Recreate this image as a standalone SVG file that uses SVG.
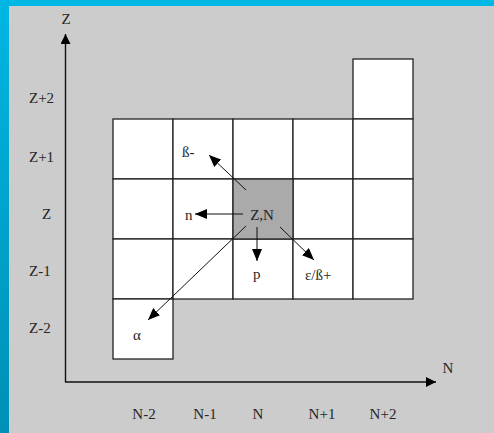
<svg xmlns="http://www.w3.org/2000/svg" width="494" height="433" viewBox="0 0 494 433">
<defs>
<linearGradient id="lb" x1="0" y1="0" x2="0" y2="1">
<stop offset="0" stop-color="#00b6e2"/>
<stop offset="1" stop-color="#0090b6"/>
</linearGradient>
<marker id="ah" viewBox="0 0 12 10" refX="12" refY="5" markerWidth="12" markerHeight="10" markerUnits="userSpaceOnUse" orient="auto">
<path d="M0,0 L12,5 L0,10 z" fill="#000"/>
</marker>
<marker id="ax" viewBox="0 0 10 10" refX="10" refY="5" markerWidth="11" markerHeight="10" markerUnits="userSpaceOnUse" orient="auto">
<path d="M0,0 L10,5 L0,10 z" fill="#000"/>
</marker>
</defs>
<style>
text{font-family:"Liberation Serif","Times New Roman",serif;font-size:15px;fill:#262626}
.c{fill:#fff;stroke:#222;stroke-width:1.3}
.s{fill:#aaaaaa;stroke:#222;stroke-width:1.3}
.a{stroke:#111;stroke-width:1;fill:none}
.ax{stroke:#111;stroke-width:1.4;fill:none}
</style>
<rect x="0" y="0" width="494" height="433" fill="#cccccc"/>
<rect x="0" y="0" width="494" height="6" fill="#00b8e4"/>
<rect x="0" y="0" width="9" height="433" fill="url(#lb)"/>

<g id="axes">
<path class="ax" d="M65.5,382 V34" marker-end="url(#ax)"/>
<path class="ax" d="M65,382 H436" marker-end="url(#ax)"/>
<text x="66" y="24" text-anchor="middle">Z</text>
<text x="448" y="373" text-anchor="middle">N</text>
</g>

<g id="zlabels">
<text x="29" y="103">Z+2</text>
<text x="29" y="162">Z+1</text>
<text x="42" y="219">Z</text>
<text x="29" y="276">Z-1</text>
<text x="29" y="333">Z-2</text>
</g>
<g id="nlabels">
<text x="144" y="419" text-anchor="middle">N-2</text>
<text x="205" y="419" text-anchor="middle">N-1</text>
<text x="258" y="419" text-anchor="middle">N</text>
<text x="322" y="419" text-anchor="middle">N+1</text>
<text x="383" y="419" text-anchor="middle">N+2</text>
</g>

<g id="grid">
<rect class="c" x="353" y="59" width="60" height="60"/>
<rect class="c" x="113" y="119" width="60" height="60"/>
<rect class="c" x="173" y="119" width="60" height="60"/>
<rect class="c" x="233" y="119" width="60" height="60"/>
<rect class="c" x="293" y="119" width="60" height="60"/>
<rect class="c" x="353" y="119" width="60" height="60"/>
<rect class="c" x="113" y="179" width="60" height="60"/>
<rect class="c" x="173" y="179" width="60" height="60"/>
<rect class="c" x="293" y="179" width="60" height="60"/>
<rect class="c" x="353" y="179" width="60" height="60"/>
<rect class="c" x="113" y="239" width="60" height="60"/>
<rect class="c" x="173" y="239" width="60" height="60"/>
<rect class="c" x="233" y="239" width="60" height="60"/>
<rect class="c" x="293" y="239" width="60" height="60"/>
<rect class="c" x="353" y="239" width="60" height="60"/>
<rect class="c" x="113" y="299" width="60" height="60"/>
</g>
<g id="center">
<rect class="s" x="233" y="179" width="60" height="60"/>
<text x="262" y="220" text-anchor="middle">Z,N</text>
</g>

<g id="connectors">
<path class="a" d="M246,190 L209,155" marker-end="url(#ah)"/>
<path class="a" d="M243,214 L195,214" marker-end="url(#ah)"/>
<path class="a" d="M257,227 L257,261" marker-end="url(#ah)"/>
<path class="a" d="M280,227 L314,260" marker-end="url(#ah)"/>
<path class="a" d="M246,226 L148,320" marker-end="url(#ah)"/>
</g>

<g id="decay-labels">
<text x="182" y="157">ß-</text>
<text x="185" y="220">n</text>
<text x="253" y="279">p</text>
<text x="305" y="280">ε/ß+</text>
<text x="133" y="340">α</text>
</g>
</svg>
